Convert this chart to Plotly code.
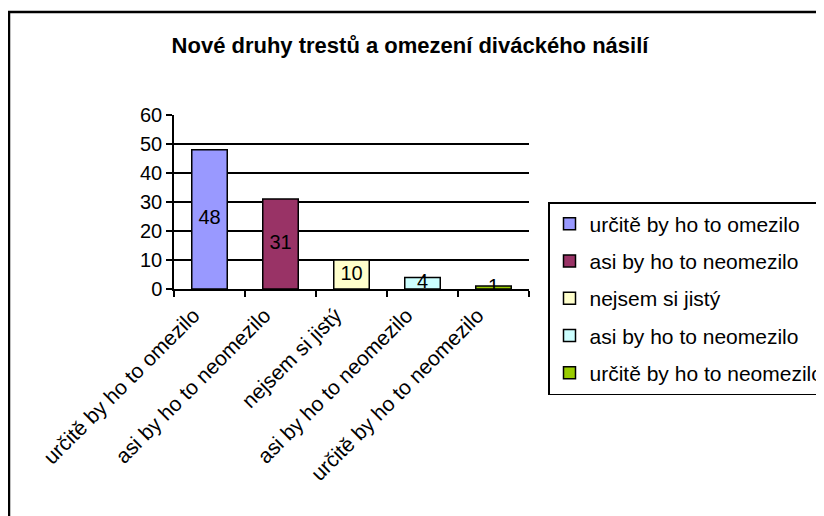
import plotly.graph_objects as go

categories = ["určitě by ho to omezilo", "asi by ho to neomezilo", "nejsem si jistý",
              "asi by ho to neomezilo", "určitě by ho to neomezilo"]
values = [48, 31, 10, 4, 1]
colors = ["#9999FF", "#993366", "#FFFFCC", "#CCFFFF", "#99CC00"]
y_ticks = [0, 10, 20, 30, 40, 50, 60]
title = "Nové druhy trestů a omezení diváckého násilí"

FONT = "Liberation Sans, Arial, sans-serif"
OFF = 8  # default page body margin
W, H = 824 - OFF, 516 - OFF
L, R_, T, B = 174 - OFF, 529 - OFF, 115 - OFF, 289 - OFF
PW, PH = R_ - L, B - T

fig = go.Figure()
positions = list(range(len(categories)))
for i, (cat, v, c) in enumerate(zip(categories, values, colors)):
    fig.add_trace(go.Bar(
        x=[positions[i]], y=[v], name=cat, width=0.5,
        marker=dict(color=c, line=dict(color="black", width=1.5)),
        legendgroup=f"g{i}", showlegend=True, hoverinfo="skip",
    ))
fig.add_trace(go.Scatter(
    x=positions, y=[v / 2 for v in values], mode="text",
    text=[str(v) for v in values], textposition="middle center",
    textfont=dict(family=FONT, size=20, color="black"),
    showlegend=False, hoverinfo="skip",
))

fig.update_layout(
    width=W, height=H,
    margin=dict(l=L, r=W - R_, t=T, b=H - B, pad=0, autoexpand=False),
    paper_bgcolor="white", plot_bgcolor="white",
    barmode="overlay",
    font=dict(family=FONT, size=19, color="black"),
    title=dict(text=f"<b>{title}</b>", x=(410 - OFF) / W, xanchor="center",
               y=1 - (45 - OFF) / H, yanchor="middle",
               font=dict(family=FONT, size=22, color="black")),
    showlegend=True,
    legend=dict(x=(548 - OFF - L) / PW, xanchor="left",
                y=(B - (202 - OFF)) / PH, yanchor="top",
                bordercolor="black", borderwidth=1.5, bgcolor="white",
                font=dict(family=FONT, size=21, color="black"),
                tracegroupgap=7, itemclick=False, maxheight=400),
)
fig.update_xaxes(
    range=[-0.5, len(categories) - 0.5], automargin=False,
    tickmode="array", tickvals=positions, ticktext=categories,
    tickangle=-45, ticks="", showgrid=False, zeroline=False,
    showline=True, linecolor="black", linewidth=1.5,
    ticklabelstandoff=4, ticklabelshift=-16,
    tickfont=dict(family=FONT, size=21, color="black"),
    minor=dict(tickmode="array", tickvals=[p - 0.5 for p in positions] + [positions[-1] + 0.5],
               ticks="outside", ticklen=6, tickwidth=1.5, tickcolor="black", showgrid=False),
)
fig.update_yaxes(
    range=[0, 60], tickmode="array", tickvals=y_ticks, automargin=False,
    ticks="outside", ticklen=6, tickwidth=1.5, tickcolor="black",
    showgrid=True, gridcolor="black", gridwidth=1.5, zeroline=False,
    showline=True, linecolor="black", linewidth=1.5,
    tickfont=dict(family=FONT, size=20, color="black"),
)

# outer chart border
fig.add_shape(type="rect", xref="paper", yref="paper",
              x0=(1 - L) / PW, x1=2.0,
              y0=-2.0, y1=(B - (12 - OFF)) / PH,
              line=dict(color="black", width=2.5), fillcolor="rgba(0,0,0,0)", layer="below")

fig.write_html("out.html")
